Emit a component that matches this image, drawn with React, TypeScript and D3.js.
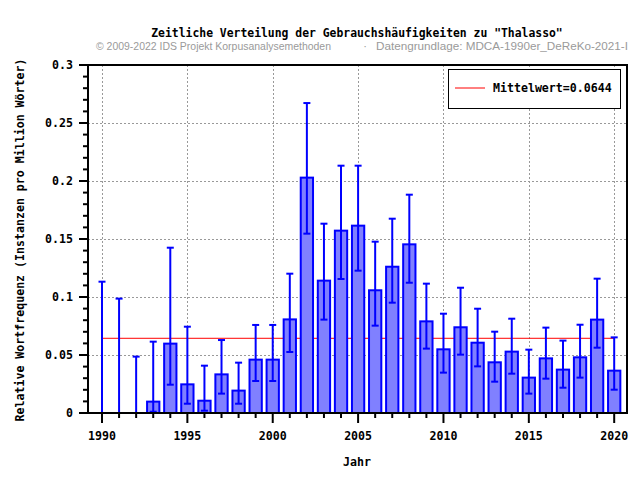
import { scaleLinear, range } from "d3";

// values
const years = range(1990, 2021);
const freq = [
  0, 0, 0, 0.0098, 0.0598, 0.0247, 0.0106, 0.0333, 0.0193, 0.046, 0.046,
  0.0807, 0.2029, 0.1141, 0.1572, 0.1615, 0.1058, 0.1261, 0.1454, 0.079,
  0.0549, 0.0739, 0.0606, 0.0437, 0.0529, 0.0305, 0.0471, 0.0374, 0.048,
  0.0805, 0.0365,
];
const upper = [
  0.1132, 0.0986, 0.0486, 0.0615, 0.1425, 0.0744, 0.0408, 0.0629, 0.0434,
  0.0759, 0.0759, 0.1201, 0.2672, 0.1632, 0.2132, 0.2132, 0.1477, 0.1675,
  0.1882, 0.1115, 0.0856, 0.108, 0.0899, 0.0701, 0.0813, 0.0546, 0.0736,
  0.0624, 0.0761, 0.1158, 0.0652,
];
const lower = [
  0, 0, 0, 0.0011, 0.0244, 0.008, 0.002, 0.0167, 0.008, 0.0276, 0.0276,
  0.0526, 0.1546, 0.0805, 0.1155, 0.1227, 0.0753, 0.0951, 0.1123, 0.0555,
  0.0348, 0.0503, 0.0402, 0.027, 0.0339, 0.0167, 0.0296, 0.0218, 0.0305,
  0.0563, 0.0201,
];
const mean = 0.0644;
const yTicks = [0, 0.05, 0.1, 0.15, 0.2, 0.25, 0.3];
const xTicks = [1990, 1995, 2000, 2005, 2010, 2015, 2020];

const mono = "'DejaVu Sans Mono', monospace";

const App = () => {
  const left = 88, right = 627, top = 65, bottom = 413;
  const x = scaleLinear().domain([1989.18, 2020.75]).range([left, right]);
  const y = scaleLinear().domain([0, 0.3]).range([bottom, top]);
  const bw = (x(1991) - x(1990)) * 0.72;
  const minorY = range(0, 0.3001, 0.01);

  return (
    <svg
      width={640}
      height={480}
      style={{ position: "absolute", left: 0, top: 0, background: "#fff" }}
    >
      <rect width={640} height={480} fill="#fff" />
      {/* title */}
      <text x={357} y={37} textAnchor="middle" fontFamily={mono} fontWeight="bold" fontSize={11.4}>
        Zeitliche Verteilung der Gebrauchshäufigkeiten zu "Thalasso"
      </text>
      <g fontFamily="'Liberation Sans', Arial, sans-serif" fontSize={11} fill="#9a9a9a">
        <text x={96} y={50} textLength={235} lengthAdjust="spacingAndGlyphs">
          © 2009-2022 IDS Projekt Korpusanalysemethoden
        </text>
        <text x={365} y={50} textAnchor="middle">·</text>
        <text x={376} y={50} textLength={252} lengthAdjust="spacingAndGlyphs">
          Datengrundlage: MDCA-1990er_DeReKo-2021-I
        </text>
      </g>

      {/* grid */}
      <g stroke="#999" strokeWidth={1} strokeDasharray="2,2">
        {yTicks.slice(1, -1).map((t) => (
          <line key={"gy" + t} x1={left} x2={right} y1={Math.round(y(t)) + 0.5} y2={Math.round(y(t)) + 0.5} />
        ))}
        {xTicks.map((t) => (
          <line key={"gx" + t} x1={Math.round(x(t)) + 0.5} x2={Math.round(x(t)) + 0.5} y1={top} y2={bottom} />
        ))}
      </g>

      {/* mean line */}
      <line x1={x(1990)} x2={x(2020)} y1={y(mean)} y2={y(mean)} stroke="#f00" strokeWidth={1} />

      {/* bars */}
      {years.map((yr, i) =>
        freq[i] > 0 ? (
          <rect
            key={"b" + yr}
            x={x(yr) - bw / 2}
            y={y(freq[i])}
            width={bw}
            height={y(0) - y(freq[i])}
            fill="#8080ff"
            stroke="#0000ff"
            strokeWidth={2}
          />
        ) : null
      )}

      {/* error bars */}
      <g stroke="#0000ff" strokeWidth={2}>
        {years.map((yr, i) => (
          <g key={"e" + yr}>
            <line x1={x(yr)} x2={x(yr)} y1={y(upper[i])} y2={y(lower[i])} />
            <line x1={x(yr) - 3.5} x2={x(yr) + 3.5} y1={y(upper[i])} y2={y(upper[i])} />
            <line x1={x(yr) - 3.5} x2={x(yr) + 3.5} y1={y(lower[i])} y2={y(lower[i])} />
          </g>
        ))}
      </g>

      {/* frame */}
      <rect x={left} y={top} width={right - left} height={bottom - top} fill="none" stroke="#000" strokeWidth={2} />

      {/* y ticks */}
      <g stroke="#000" strokeWidth={2}>
        {minorY.map((t, i) => (
          <line key={"my" + i} x1={left - (i % 5 === 0 ? 9 : 5)} x2={left} y1={y(t)} y2={y(t)} />
        ))}
        {years.map((yr) => (
          <line key={"mx" + yr} x1={x(yr)} x2={x(yr)} y1={bottom} y2={bottom + (yr % 5 === 0 ? 10 : 5)} />
        ))}
      </g>
      <g fontFamily={mono} fontWeight="bold" fontSize={11.6}>
        {yTicks.map((t) => (
          <text key={"ly" + t} x={73} y={y(t)} dy="0.36em" textAnchor="end">
            {String(t)}
          </text>
        ))}
        {xTicks.map((t) => (
          <text key={"lx" + t} x={x(t)} y={440} textAnchor="middle">
            {t}
          </text>
        ))}
        <text x={357} y={466} textAnchor="middle">Jahr</text>
        <text transform="translate(24,240) rotate(-90)" textAnchor="middle">
          Relative Wortfrequenz (Instanzen pro Million Wörter)
        </text>
      </g>

      {/* legend */}
      <rect x={448.5} y={69.5} width={172} height={39} fill="#fff" stroke="#000" strokeWidth={1} />
      <line x1={455} x2={485} y1={88} y2={88} stroke="#f00" strokeWidth={1} />
      <text x={493} y={92} fontFamily={mono} fontWeight="bold" fontSize={11.6}>
        Mittelwert=0.0644
      </text>
    </svg>
  );
};

export default App;
